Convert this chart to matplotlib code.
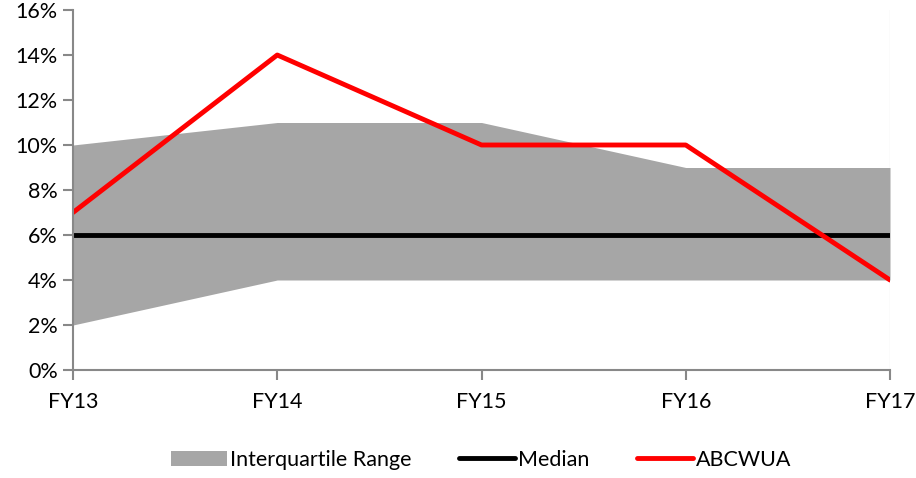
import matplotlib.pyplot as plt
from matplotlib.ticker import FuncFormatter

years = ["FY13", "FY14", "FY15", "FY16", "FY17"]
iqr_low = [2, 4, 4, 4, 4]
iqr_high = [10, 11, 11, 9, 9]
median = [6, 6, 6, 6, 6]
abcwua = [7, 14, 10, 10, 4]

plt.rcParams['font.family'] = ['Lato', 'DejaVu Sans']

fig = plt.figure(figsize=(9.16, 4.78), dpi=100)
ax = fig.add_axes([73 / 916, 108 / 478, 817 / 916, 360 / 478])

x = list(range(len(years)))
ax.fill_between(x, iqr_low, iqr_high, color="#A6A6A6", linewidth=0,
                label="Interquartile Range")
ax.plot(x, median, color="black", linewidth=3.5, label="Median",
        solid_capstyle="round")
ax.plot(x, abcwua, color="#FF0000", linewidth=3.5, label="ABCWUA",
        solid_capstyle="round")

ax.set_xlim(0, 4)
ax.set_ylim(0, 16)
ax.set_xticks(x)
ax.set_xticklabels(years)
ax.set_yticks(range(0, 17, 2))
ax.yaxis.set_major_formatter(FuncFormatter(lambda v, _: f"{v:.0f}%"))

for side in ("top", "right"):
    ax.spines[side].set_visible(False)
for side in ("left", "bottom"):
    ax.spines[side].set_color("#888888")
    ax.spines[side].set_linewidth(1.5)
ax.tick_params(axis="both", colors="#888888", width=1.5, length=7,
               labelcolor="black", labelsize=15.5)
ax.tick_params(axis="x", pad=9)
ax.tick_params(axis="y", pad=4)
# thin border on the right end of the plot area
ax.axvline(4, color="#EEEEEE", linewidth=1, zorder=0)

ax.legend(loc="center", bbox_to_anchor=(0.5, -0.25), ncol=3, frameon=False,
          fontsize=15.5, handlelength=2.6, handletextpad=0.15, columnspacing=2.2)

fig.savefig("out.png", dpi=100)
